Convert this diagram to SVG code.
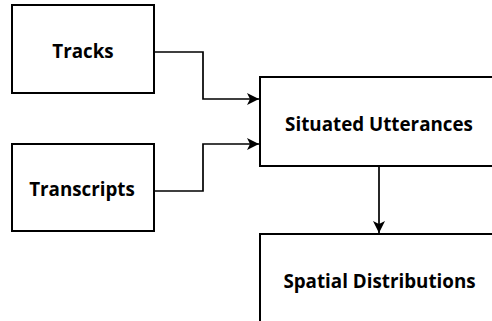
<svg xmlns="http://www.w3.org/2000/svg" width="492" height="321" viewBox="0 0 492 321">
<style>
.box{fill:#fff;stroke:#000;stroke-width:2}
.lbl{font-family:"Open Sans","Noto Sans","Liberation Sans",sans-serif;font-weight:bold;font-size:18.8px;text-anchor:middle;fill:#000}
.conn{fill:none;stroke:#000;stroke-width:1.7}
</style>
<defs>
<marker id="arr" markerWidth="13" markerHeight="12" refX="12" refY="6" orient="auto" markerUnits="userSpaceOnUse">
<path d="M0,0 L12,6 L0,12 L3,6 Z" fill="#000"/>
</marker>
</defs>
<rect width="492" height="321" fill="#fff"/>
<g id="tracks">
<rect class="box" x="12" y="5" width="142" height="88"/>
<text class="lbl" x="83" y="58">Tracks</text>
</g>
<g id="transcripts">
<rect class="box" x="12" y="144" width="142" height="87"/>
<text class="lbl" x="82" y="196">Transcripts</text>
</g>
<g id="situated">
<rect class="box" x="260" y="77" width="240" height="89"/>
<text class="lbl" x="379" y="131">Situated Utterances</text>
</g>
<g id="spatial">
<rect class="box" x="260" y="234" width="240" height="100"/>
<text class="lbl" x="379.5" y="288">Spatial Distributions</text>
</g>
<g id="connectors">
<path class="conn" d="M154,52 H203 V99 H259" marker-end="url(#arr)"/>
<path class="conn" d="M154,191 H203 V144 H259" marker-end="url(#arr)"/>
<path class="conn" d="M379,166 V233" marker-end="url(#arr)"/>
</g>
</svg>
